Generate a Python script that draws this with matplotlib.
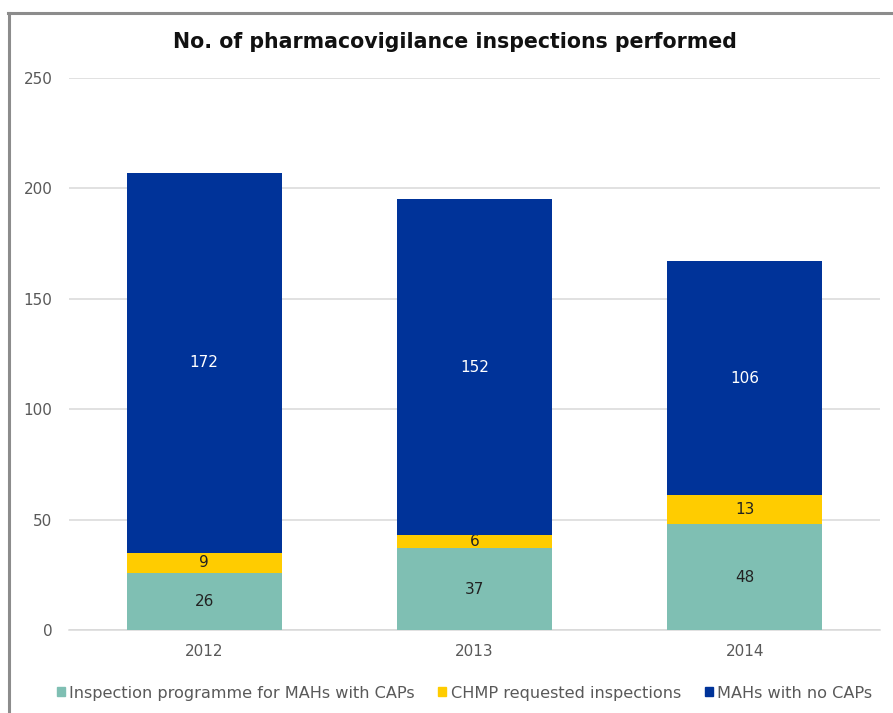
import matplotlib
matplotlib.use("Agg")
import matplotlib.pyplot as plt
from matplotlib.lines import Line2D
import numpy as np

years = ["2012", "2013", "2014"]
caps_programme = [26, 37, 48]
chmp_requested = [9, 6, 13]
no_caps = [172, 152, 106]

series_names = ["Inspection programme for MAHs with CAPs",
                "CHMP requested inspections",
                "MAHs with no CAPs"]
colors = ["#7fbfb3", "#ffcc00", "#003399"]
label_colors = ["#222222", "#222222", "white"]

plt.rcParams["font.family"] = ["DejaVu Sans"]

fig = plt.figure(figsize=(8.93, 7.13), dpi=100)
ax = fig.add_axes([0.0773, 0.1164, 0.908, 0.7742])

x = np.arange(len(years))
bottom = np.zeros(len(years))
for vals, col, lc in zip([caps_programme, chmp_requested, no_caps], colors, label_colors):
    bars = ax.bar(x, vals, width=0.574, bottom=bottom, color=col, zorder=3)
    ax.bar_label(bars, labels=[str(v) for v in vals], label_type="center",
                 color=lc, fontsize=11)
    bottom += np.array(vals)

ax.set_xlim(-0.5, 2.5)
ax.set_ylim(0, 250)
ax.set_yticks(range(0, 251, 50))
ax.set_xticks(x)
ax.set_xticklabels(years)
ax.yaxis.grid(True, color="#d9d9d9", linewidth=1.1, zorder=0)
ax.tick_params(length=0, colors="#595959", labelsize=11)
ax.tick_params(axis="y", pad=12)
ax.tick_params(axis="x", pad=10)
for s in ["top", "right", "left"]:
    ax.spines[s].set_visible(False)
ax.spines["bottom"].set_color("#d9d9d9")
ax.spines["bottom"].set_linewidth(1.1)

fig.text(0.510, 0.941, "No. of pharmacovigilance inspections performed",
         ha="center", va="center", fontsize=14.8, fontweight="bold", color="#111111")

handles = [plt.Rectangle((0, 0), 1, 1, color=c) for c in colors]
fig.legend(handles, series_names, loc="center", bbox_to_anchor=(0.52, 0.028),
           ncol=3, frameon=False, fontsize=11.6, handlelength=0.5, handleheight=0.5,
           handletextpad=0.25, columnspacing=1.5, labelcolor="#595959")

# outer frame (left and top edges)
fig.add_artist(Line2D([0.0105, 0.0105], [0, 0.982], color="#8c8c8c", linewidth=2.2))
fig.add_artist(Line2D([0.0095, 1.0], [0.982, 0.982], color="#8c8c8c", linewidth=2.2))

fig.savefig("out.png", dpi=100)
